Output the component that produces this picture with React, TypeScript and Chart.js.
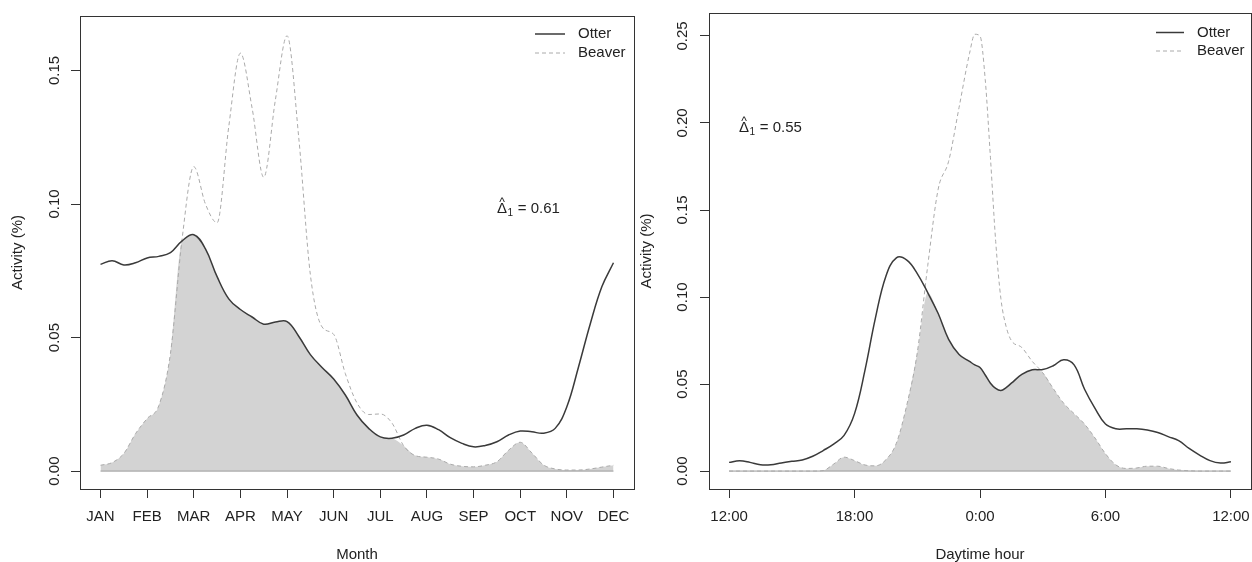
import React, { useEffect, useRef } from 'react';
import { Chart, registerables } from 'chart.js';

Chart.register(...registerables);

// ---------- Left panel: monthly activity ----------
const monthLabels = ['JAN', 'FEB', 'MAR', 'APR', 'MAY', 'JUN', 'JUL', 'AUG', 'SEP', 'OCT', 'NOV', 'DEC'];
const monthTicks = [0, 1, 2, 3, 4, 5, 6, 7, 8, 9, 10, 11];
const monthX = [
  0, 0.25, 0.5, 0.75, 1, 1.25, 1.5, 1.75, 2, 2.25, 2.5, 2.75, 3, 3.25, 3.5, 3.75, 4, 4.25, 4.5, 4.75,
  5, 5.25, 5.5, 5.75, 6, 6.25, 6.5, 6.75, 7, 7.25, 7.5, 7.75, 8, 8.25, 8.5, 8.75, 9, 9.25, 9.5, 9.75,
  10, 10.25, 10.5, 10.75, 11,
];
const otterMonth = [
  0.0774, 0.0788, 0.0772, 0.0780, 0.0798, 0.0804, 0.0818, 0.0862, 0.0885, 0.0832, 0.0728, 0.0645, 0.0605, 0.0577, 0.0550, 0.0558, 0.0560, 0.0505, 0.0436, 0.0388,
  0.0345, 0.0285, 0.0210, 0.0160, 0.0128, 0.0123, 0.0135, 0.0160, 0.0172, 0.0155, 0.0125, 0.0104, 0.0091, 0.0096, 0.0110, 0.0135, 0.0150, 0.0147, 0.0142, 0.0160,
  0.0241, 0.0390, 0.0550, 0.0690, 0.0780,
];
const beaverMonth = [
  0.0022, 0.0032, 0.0066, 0.0140, 0.0197, 0.0245, 0.0441, 0.0870, 0.1140, 0.1000, 0.0930, 0.1290, 0.1565, 0.1360, 0.1100, 0.1390, 0.1630, 0.1250, 0.0735, 0.0540,
  0.0512, 0.0365, 0.0255, 0.0212, 0.0214, 0.0180, 0.0095, 0.0058, 0.0052, 0.0045, 0.0026, 0.0018, 0.0016, 0.0022, 0.0035, 0.0078, 0.0108, 0.0068, 0.0023, 0.0008,
  0.0004, 0.0004, 0.0008, 0.0015, 0.0022,
];
const monthYTicks = [0, 0.05, 0.1, 0.15];
const monthYLabels = ['0.00', '0.05', '0.10', '0.15'];

// ---------- Right panel: daily activity ----------
const hourLabels = ['12:00', '18:00', '0:00', '6:00', '12:00'];
const hourTicks = [0, 6, 12, 18, 24];
const hourX = [
  0, 0.5, 1, 1.5, 2, 2.5, 3, 3.5, 4, 4.5, 5, 5.5, 6, 6.5, 7, 7.5, 8, 8.5, 9, 9.5, 10, 10.5, 11, 11.5,
  11.75, 12, 12.25, 12.5, 12.75, 13, 13.25,
  13.5, 14, 14.5, 15, 15.5, 16, 16.5, 17, 17.5, 18, 18.5, 19, 19.5, 20, 20.5, 21, 21.5, 22, 22.5, 23, 23.5, 24,
];
const otterHour = [
  0.0050, 0.0059, 0.0050, 0.0036, 0.0036, 0.0047, 0.0056, 0.0064, 0.0085, 0.0118, 0.0155, 0.0205, 0.0330, 0.0580, 0.0880, 0.1120, 0.1225, 0.1212, 0.1135, 0.1025, 0.0905, 0.0757, 0.0670, 0.0630,
  0.0610, 0.0595, 0.0552, 0.0505, 0.0475, 0.0463, 0.0480,
  0.0505, 0.0555, 0.0582, 0.0583, 0.0605, 0.0640, 0.0610, 0.0470, 0.0360, 0.0270, 0.0243, 0.0243, 0.0243, 0.0236, 0.0222, 0.0198, 0.0175, 0.0130, 0.0092, 0.0060, 0.0046, 0.0053,
];
const beaverHour = [
  0, 0, 0, 0, 0, 0, 0, 0, 0, 0.0003, 0.0040, 0.0080, 0.0060, 0.0035, 0.0030, 0.0065, 0.0160, 0.0380, 0.0680, 0.1180, 0.1620, 0.1780, 0.2090, 0.2400,
  0.2510, 0.2500, 0.2250, 0.1800, 0.1320, 0.0990, 0.0830,
  0.0750, 0.0710, 0.0630, 0.0565, 0.0475, 0.0390, 0.0330, 0.0270, 0.0190, 0.0100, 0.0035, 0.0015, 0.0018, 0.0028, 0.0028, 0.0015, 0.0006, 0.0002, 0, 0, 0, 0,
];
const hourYTicks = [0, 0.05, 0.1, 0.15, 0.2, 0.25];
const hourYLabels = ['0.00', '0.05', '0.10', '0.15', '0.20', '0.25'];

const FONT = "'Liberation Sans', Arial, Helvetica, sans-serif";
const TEXT = '#222222';
const OTTER = '#3a3a3a';
const BEAVER = '#aaaaaa';
const FILL = '#d3d3d3';

type Panel = {
  id: string;
  xs: number[];
  otter: number[];
  beaver: number[];
  xMin: number;
  xMax: number;
  xTicks: number[];
  xLabels: string[];
  yMin: number;
  yMax: number;
  yTicks: number[];
  yLabels: string[];
  xTitle: string;
  delta: string;
  deltaX: number;
  deltaY: number;
  legend: { x0: number; x1: number; tx: number; y1: number; y2: number };
  padTop: number;
  padRight: number;
  yWidth: number;
  yTitlePad: number;
  yLabelOffset: number;
};

function decorPlugin(p: Panel) {
  return {
    id: 'decor_' + p.id,
    afterDraw(chart: any) {
      const { ctx, chartArea: a } = chart;
      ctx.save();
      ctx.strokeStyle = '#333333';
      ctx.lineWidth = 1;
      ctx.setLineDash([]);
      const l = Math.round(a.left) + 0.5;
      const t = Math.round(a.top) + 0.5;
      ctx.strokeRect(l, t, Math.round(a.right) - Math.round(a.left), Math.round(a.bottom) - Math.round(a.top));
      const ys = chart.scales.y;
      ctx.fillStyle = TEXT;
      ctx.font = `15px ${FONT}`;
      ctx.textAlign = 'center';
      ctx.textBaseline = 'middle';
      p.yTicks.forEach((v, i) => {
        const y = ys.getPixelForValue(v);
        ctx.save();
        ctx.translate(a.left - p.yLabelOffset, y);
        ctx.rotate(-Math.PI / 2);
        ctx.fillText(p.yLabels[i], 0, 0);
        ctx.restore();
      });
      const lg = p.legend;
      ctx.strokeStyle = OTTER;
      ctx.lineWidth = 1.5;
      ctx.beginPath();
      ctx.moveTo(lg.x0, lg.y1);
      ctx.lineTo(lg.x1, lg.y1);
      ctx.stroke();
      ctx.strokeStyle = BEAVER;
      ctx.lineWidth = 1;
      ctx.setLineDash([4, 3]);
      ctx.beginPath();
      ctx.moveTo(lg.x0, lg.y2);
      ctx.lineTo(lg.x1, lg.y2);
      ctx.stroke();
      ctx.setLineDash([]);
      ctx.textAlign = 'left';
      ctx.textBaseline = 'middle';
      ctx.fillText('Otter', lg.tx, lg.y1);
      ctx.fillText('Beaver', lg.tx, lg.y2);
      ctx.textBaseline = 'alphabetic';
      ctx.font = `15px ${FONT}`;
      const wD = ctx.measureText('Δ').width;
      ctx.fillText('Δ', p.deltaX, p.deltaY);
      ctx.font = `12px ${FONT}`;
      ctx.textAlign = 'center';
      ctx.fillText('^', p.deltaX + wD / 2, p.deltaY - 7);
      ctx.textAlign = 'left';
      ctx.font = `10px ${FONT}`;
      ctx.fillText('1', p.deltaX + wD + 0.5, p.deltaY + 3);
      const w1 = ctx.measureText('1').width;
      ctx.font = `15px ${FONT}`;
      ctx.fillText(' = ' + p.delta, p.deltaX + wD + w1 + 1, p.deltaY);
      ctx.restore();
    },
  };
}

function buildConfig(p: Panel): any {
  const pts = (ys: number[]) => p.xs.map((x, i) => ({ x, y: ys[i] }));
  const overlap = p.otter.map((v, i) => Math.min(v, p.beaver[i]));
  const baseline = [
    { x: p.xs[0], y: 0 },
    { x: p.xs[p.xs.length - 1], y: 0 },
  ];
  return {
    type: 'line',
    data: {
      datasets: [
        {
          label: 'overlap',
          data: pts(overlap),
          fill: 'origin',
          backgroundColor: FILL,
          borderWidth: 0,
          borderColor: 'rgba(0,0,0,0)',
          pointRadius: 0,
          cubicInterpolationMode: 'monotone',
          order: 3,
        },
        {
          label: 'baseline',
          data: baseline,
          fill: false,
          borderColor: '#999999',
          borderWidth: 1,
          pointRadius: 0,
          order: 2,
        },
        {
          label: 'Beaver',
          data: pts(p.beaver),
          fill: false,
          borderColor: BEAVER,
          borderWidth: 1,
          borderDash: [4, 3],
          pointRadius: 0,
          cubicInterpolationMode: 'monotone',
          order: 1,
        },
        {
          label: 'Otter',
          data: pts(p.otter),
          fill: false,
          borderColor: OTTER,
          borderWidth: 1.5,
          pointRadius: 0,
          tension: 0.4,
          order: 0,
        },
      ],
    },
    options: {
      animation: false,
      responsive: false,
      maintainAspectRatio: false,
      events: [],
      layout: { padding: { top: p.padTop, right: p.padRight, bottom: 0, left: 0 } },
      plugins: { legend: { display: false }, tooltip: { enabled: false } },
      scales: {
        x: {
          type: 'linear',
          min: p.xMin,
          max: p.xMax,
          afterBuildTicks: (s: any) => {
            s.ticks = p.xTicks.map((v) => ({ value: v }));
          },
          afterFit: (s: any) => {
            s.height = 73;
            s.paddingLeft = 0;
            s.paddingRight = 0;
          },
          border: { display: false },
          grid: { drawOnChartArea: false, drawTicks: true, tickLength: 9, color: '#333333', lineWidth: 1 },
          ticks: {
            autoSkip: false,
            maxRotation: 0,
            minRotation: 0,
            padding: 10,
            color: TEXT,
            font: { family: FONT, size: 15 },
            callback: (_v: any, i: number) => p.xLabels[i],
          },
          title: {
            display: true,
            text: p.xTitle,
            color: TEXT,
            font: { family: FONT, size: 15, lineHeight: 1 },
            padding: { top: 0, bottom: 0 },
          },
        },
        y: {
          type: 'linear',
          min: p.yMin,
          max: p.yMax,
          afterBuildTicks: (s: any) => {
            s.ticks = p.yTicks.map((v) => ({ value: v }));
          },
          afterFit: (s: any) => {
            s.width = p.yWidth;
            s.paddingTop = 0;
            s.paddingBottom = 0;
          },
          border: { display: false },
          grid: { drawOnChartArea: false, drawTicks: true, tickLength: 9, color: '#333333', lineWidth: 1 },
          ticks: { display: false },
          title: {
            display: true,
            text: 'Activity (%)',
            color: TEXT,
            font: { family: FONT, size: 15, lineHeight: 1 },
            padding: { top: p.yTitlePad, bottom: 0 },
          },
        },
      },
    },
    plugins: [decorPlugin(p)],
  };
}

const leftPanel: Panel = {
  id: 'month',
  xs: monthX,
  otter: otterMonth,
  beaver: beaverMonth,
  xMin: -0.44,
  xMax: 11.44,
  xTicks: monthTicks,
  xLabels: monthLabels,
  yMin: -0.0067,
  yMax: 0.1704,
  yTicks: monthYTicks,
  yLabels: monthYLabels,
  xTitle: 'Month',
  delta: '0.61',
  deltaX: 497,
  deltaY: 213,
  legend: { x0: 535, x1: 565, tx: 578, y1: 34, y2: 53 },
  padTop: 16,
  padRight: 6,
  yWidth: 80,
  yTitlePad: 10.5,
  yLabelOffset: 25,
};

const rightPanel: Panel = {
  id: 'hour',
  xs: hourX,
  otter: otterHour,
  beaver: beaverHour,
  xMin: -0.96,
  xMax: 24.96,
  xTicks: hourTicks,
  xLabels: hourLabels,
  yMin: -0.0103,
  yMax: 0.2632,
  yTicks: hourYTicks,
  yLabels: hourYLabels,
  xTitle: 'Daytime hour',
  delta: '0.55',
  deltaX: 113,
  deltaY: 132,
  legend: { x0: 530, x1: 558, tx: 571, y1: 32.5, y2: 51 },
  padTop: 13,
  padRight: 1,
  yWidth: 83,
  yTitlePad: 13.5,
  yLabelOffset: 26,
};

function PanelChart({ panel, left, width }: { panel: Panel; left: number; width: number }) {
  const ref = useRef<HTMLCanvasElement | null>(null);
  useEffect(() => {
    if (!ref.current) return;
    const chart = new Chart(ref.current, buildConfig(panel));
    return () => chart.destroy();
  }, [panel]);
  return (
    <canvas
      ref={ref}
      width={width}
      height={562}
      style={{ position: 'absolute', left, top: 0, width, height: 562 }}
    />
  );
}

export default function App() {
  return (
    <div style={{ position: 'fixed', left: 0, top: 0, width: 1252, height: 562, background: '#ffffff', overflow: 'hidden' }}>
      <PanelChart panel={leftPanel} left={0} width={640} />
      <PanelChart panel={rightPanel} left={626} width={626} />
    </div>
  );
}
